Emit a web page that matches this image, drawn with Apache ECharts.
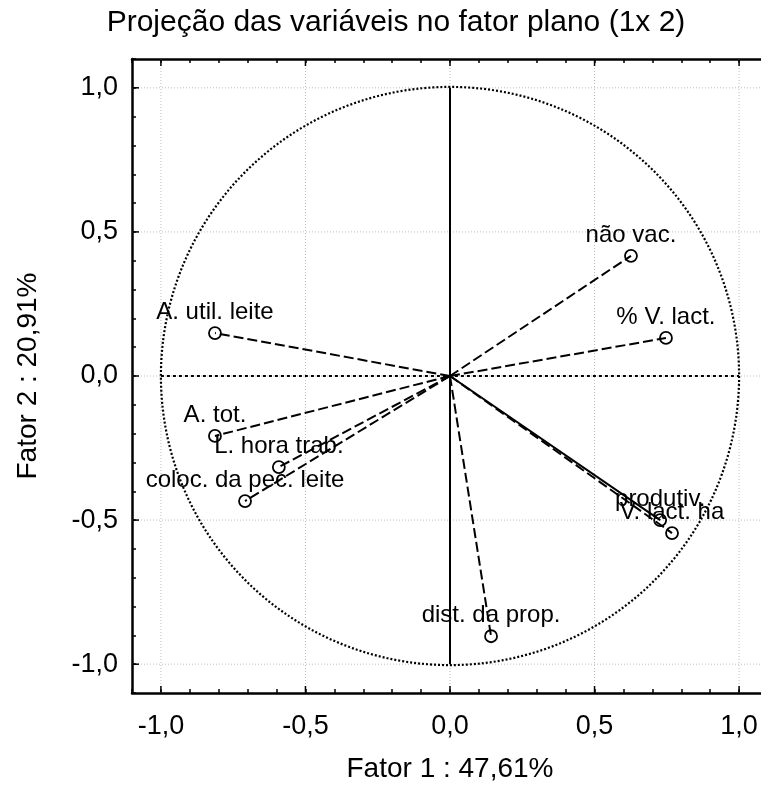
<!DOCTYPE html>
<html><head><meta charset="utf-8">
<script src="https://cdn.jsdelivr.net/npm/echarts@6/dist/echarts.min.js"></script>
<style>html,body{margin:0;padding:0;background:#fff}#c{width:761px;height:788px}</style>
</head><body><div id="c"></div>
<script>
// ---- data ----
const variables = ['não vac.', '% V. lact.', 'A. util. leite', 'A. tot.', 'L. hora trab.', 'coloc. da pec. leite', 'produtiv.', 'V. lact. ha', 'dist. da prop.'];
const factor1 = [0.626, 0.747, -0.813, -0.813, -0.592, -0.709, 0.727, 0.768, 0.142];
const factor2 = [0.417, 0.132, 0.149, -0.208, -0.316, -0.434, -0.500, -0.545, -0.903];
const solidVector = [false, false, false, false, false, false, true, false, false];
const majorTicks = [-1.0, -0.5, 0.0, 0.5, 1.0];
const axisMin = -1.1, axisMax = 1.1, minorStep = 0.1;
const unitRadius = 1;
const titleText = 'Projeção das variáveis no fator plano (1x 2)';
const xName = 'Fator 1 : 47,61%';
const yName = 'Fator 2 : 20,91%';

const FONT = "'Liberation Sans', Arial, sans-serif";
const isMajor = v => majorTicks.some(m => Math.abs(m - v) < 1e-6);
const fmt = v => isMajor(v) ? (Math.abs(v) < 1e-9 ? 0 : v).toFixed(1).replace('.', ',') : '';

function makeAxis(pos, withLabels, name, nameGap, isY) {
  return {
    type: 'value', position: pos, min: axisMin, max: axisMax, interval: minorStep,
    axisLine: { show: true, onZero: false, lineStyle: { color: '#000', width: 2.5 } },
    axisTick: { show: true, inside: true, length: 4, lineStyle: { color: '#000', width: 1.5 } },
    axisLabel: withLabels ? { show: true, formatter: fmt, fontSize: 27, color: '#000', fontFamily: FONT, margin: isY ? 14 : 20 } : { show: false },
    splitLine: { show: false },
    name: name || '', nameLocation: 'middle', nameGap: nameGap || 0,
    nameTextStyle: { fontSize: 28, color: '#000', fontFamily: FONT }
  };
}

const chart = echarts.init(document.getElementById('c'));
chart.setOption({
  animation: false,
  backgroundColor: '#fff',
  title: { text: titleText, left: 391, top: 3, textAlign: 'center',
    textStyle: { fontSize: 30, fontWeight: 'normal', color: '#000', fontFamily: FONT } },
  grid: { left: 132, top: 59, width: 636, height: 634, containLabel: false, outerBoundsMode: 'none' },
  xAxis: [makeAxis('bottom', true, xName, 62, false), makeAxis('top', false)],
  yAxis: [makeAxis('left', true, yName, 90, true), makeAxis('right', false)],
  series: [
    { // grid lines + major ticks
      type: 'custom', silent: true, z: 1,
      data: majorTicks.map(v => [v]),
      renderItem: function (params, api) {
        const cs = params.coordSys;
        const v = api.value(0);
        const px = api.coord([v, 0])[0];
        const py = api.coord([0, v])[1];
        const g = { stroke: '#bdbdbd', lineWidth: 1, lineDash: [1, 2] };
        const t = { stroke: '#000', lineWidth: 1.5 };
        return { type: 'group', children: [
          { type: 'line', shape: { x1: px, y1: cs.y, x2: px, y2: cs.y + cs.height }, style: g },
          { type: 'line', shape: { x1: cs.x, y1: py, x2: cs.x + cs.width, y2: py }, style: g },
          { type: 'line', shape: { x1: px, y1: cs.y + cs.height, x2: px, y2: cs.y + cs.height - 7 }, style: t },
          { type: 'line', shape: { x1: px, y1: cs.y, x2: px, y2: cs.y + 7 }, style: t },
          { type: 'line', shape: { x1: cs.x, y1: py, x2: cs.x + 7, y2: py }, style: t },
          { type: 'line', shape: { x1: cs.x + cs.width, y1: py, x2: cs.x + cs.width - 7, y2: py }, style: t }
        ]};
      }
    },
    { // unit circle + zero axes
      type: 'custom', silent: true, z: 2,
      data: [[0, 0]],
      renderItem: function (params, api) {
        const c = api.coord([0, 0]);
        const r = api.size([unitRadius, unitRadius])[0];
        const top = api.coord([0, unitRadius]), bot = api.coord([0, -unitRadius]);
        const lft = api.coord([-unitRadius, 0]), rgt = api.coord([unitRadius, 0]);
        return { type: 'group', children: [
          { type: 'circle', shape: { cx: c[0], cy: c[1], r: r }, style: { fill: 'none', stroke: '#000', lineWidth: 2.2, lineDash: [2, 2] } },
          { type: 'line', shape: { x1: top[0], y1: top[1], x2: bot[0], y2: bot[1] }, style: { stroke: '#000', lineWidth: 2 } },
          { type: 'line', shape: { x1: lft[0], y1: lft[1], x2: rgt[0], y2: rgt[1] }, style: { stroke: '#000', lineWidth: 2, lineDash: [3, 3] } }
        ]};
      }
    },
    { // vectors
      type: 'custom', silent: true, z: 3,
      data: variables.map((n, i) => [factor1[i], factor2[i], solidVector[i] ? 1 : 0]),
      renderItem: function (params, api) {
        const o = api.coord([0, 0]);
        const p = api.coord([api.value(0), api.value(1)]);
        const solid = api.value(2) === 1;
        return { type: 'line', shape: { x1: o[0], y1: o[1], x2: p[0], y2: p[1] },
          style: { stroke: '#000', lineWidth: 2, lineDash: solid ? null : [10, 4] } };
      }
    },
    { // points
      type: 'scatter', z: 4,
      symbol: 'circle', symbolSize: 12,
      itemStyle: { color: 'rgba(255,255,255,0)', borderColor: '#000', borderWidth: 1.8, opacity: 1 },
      label: { show: true, position: 'top', distance: 2, formatter: p => p.data[2],
        fontSize: 24, color: '#000', fontFamily: FONT, opacity: 1 },
      emphasis: { disabled: true },
      data: variables.map((n, i) => [factor1[i], factor2[i], n])
    }
  ]
});
</script></body></html>
